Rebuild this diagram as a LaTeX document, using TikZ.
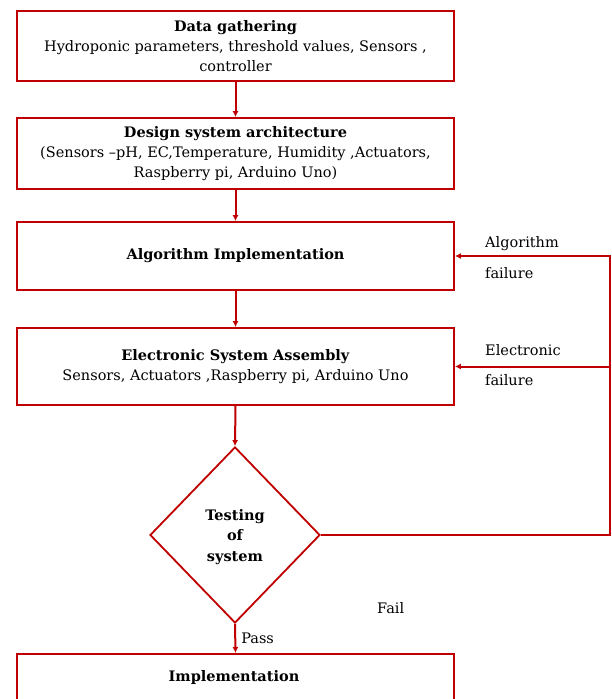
\documentclass[tikz,border=0pt]{standalone}
\usepackage{fontspec}
\setmainfont{DejaVu Serif}
\usetikzlibrary{arrows.meta,shapes.geometric}
\definecolor{dred}{HTML}{C00000}
\begin{document}
\begin{tikzpicture}[x=1pt,y=-1pt,
  box/.style={draw=dred,line width=1.8pt,minimum width=437pt,inner sep=0pt,align=center,font=\fontsize{14.5}{20}\selectfont},
  conn/.style={draw=dred,line width=2pt,-{Latex[length=6pt,width=6pt]}},
  lbl/.style={font=\fontsize{14.5}{18}\selectfont,inner sep=0pt,anchor=west}]
\useasboundingbox (0,0) rectangle (611,699);
\clip (0,0) rectangle (611,699);
\node[box,minimum height=70pt] (b1) at (235.5,46) {\textbf{Data gathering}\\Hydroponic parameters, threshold values, Sensors ,\\controller};
\node[box,minimum height=71pt] (b2) at (235.5,153.5) {\textbf{Design system architecture}\\(Sensors –pH, EC,Temperature, Humidity ,Actuators,\\Raspberry pi, Arduino Uno)};
\node[box,minimum height=68pt] (b3) at (235.5,256) {\textbf{Algorithm Implementation}};
\node[box,minimum height=77pt] (b4) at (235.5,366.5) {\textbf{Electronic System Assembly}\\Sensors, Actuators ,Raspberry pi, Arduino Uno};
\node[draw=dred,line width=1.8pt,shape=diamond,aspect=0.966,minimum width=170pt,minimum height=176pt,inner sep=0pt] (d) at (235,535) {};
\node[align=center,inner sep=0pt,font=\fontsize{14.5}{20.5}\selectfont\bfseries] (dt) at (235,537) {Testing\\of\\system};
\node[box,minimum height=100pt,anchor=north] (b5) at (235.5,653) {};
\node[font=\fontsize{14.5}{19}\selectfont\bfseries,inner sep=0pt] (t5) at (234,677) {Implementation};
\coordinate (r1) at (610,535);
\coordinate (r2) at (610,256);
\draw[conn] (b1.south) -- (b2.north);
\draw[conn] (b2.south) -- (b3.north);
\draw[conn] (b3.south) -- (b4.north);
\draw[conn] (b4.south) -- (d.north);
\draw[conn] (d.south) -- (b5.north) node[pos=0.5,right=5pt,lbl] (pass) {Pass};
\draw[conn] (d.east) -- (r1) -- (r2) -- (b3.east);
\draw[conn] (r1 |- b4.east) -- (b4.east);
\node[lbl] (a1) at (485,244) {Algorithm};
\node[lbl] (a2) at (485,273) {failure};
\node[lbl] (e1) at (485,350) {Electronic};
\node[lbl] (e2) at (485,380) {failure};
\node[lbl] (fail) at (377,608) {Fail};
\end{tikzpicture}
\end{document}
